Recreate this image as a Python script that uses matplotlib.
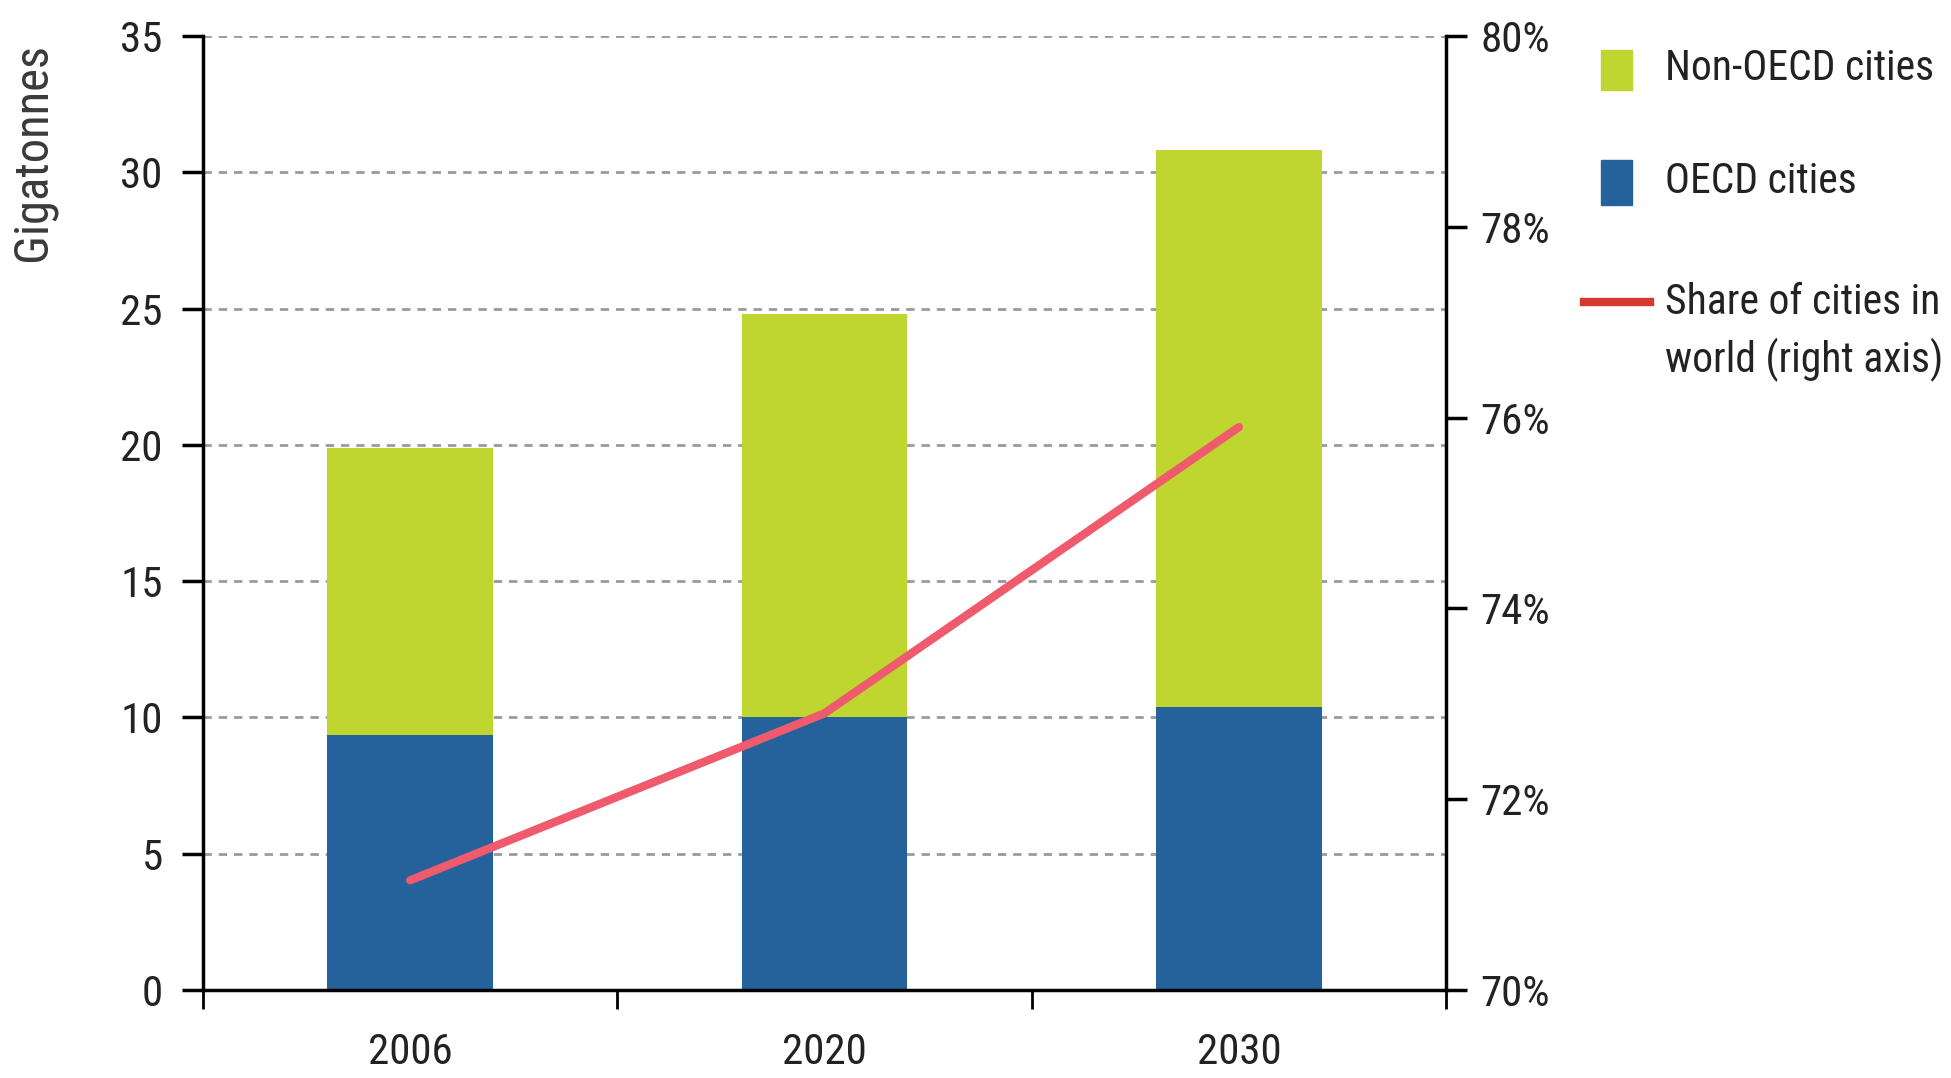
import matplotlib
matplotlib.use("Agg")
import matplotlib.pyplot as plt
from matplotlib.patches import Rectangle
from matplotlib.lines import Line2D
import numpy as np

plt.rcParams['font.family'] = ['Roboto Condensed', 'Lato', 'DejaVu Sans']

years = ['2006', '2020', '2030']
oecd = [9.35, 10.0, 10.4]
non_oecd = [10.55, 14.8, 20.4]
share = [71.15, 72.9, 75.9]
legend_labels = ['Non-OECD cities', 'OECD cities', 'Share of cities in\nworld (right axis)']

blue = '#25619A'
green = '#BFD630'
pink = '#EF5A6C'
red = '#D63A2E'
W, H = 1951, 1078

fig = plt.figure(figsize=(W/100, H/100), dpi=100)
ax = fig.add_axes([203/W, 1 - 990/H, (1446-203)/W, (990-36)/H])
ind = np.arange(len(years))
width = 0.4

ax.bar(ind, oecd, width, color=blue, zorder=2)
ax.bar(ind, non_oecd, width, bottom=oecd, color=green, zorder=2)

ax.set_xlim(-0.5, 2.5)
ax.set_ylim(0, 35)
ax.set_yticks(np.arange(0, 36, 5))
for y in np.arange(5, 36, 5):
  ax.axhline(y, color='#9A9A9A', lw=2, ls=(0, (3, 2.5)), zorder=1)

ax.set_xticks(ind)
ax.set_xticklabels(years)
ax.set_xticks([-0.5, 0.5, 1.5, 2.5], minor=True)
ax.tick_params(axis='x', which='major', length=0, pad=30, labelsize=31, labelcolor='#222222')
ax.tick_params(axis='x', which='minor', length=14, width=2)
ax.tick_params(axis='y', length=15, width=2.5, pad=14, labelsize=31, labelcolor='#222222')
for s in ['top', 'right']:
  ax.spines[s].set_visible(False)
for s in ['left', 'bottom']:
  ax.spines[s].set_linewidth(2.5)

ax.set_ylabel('Gigatonnes', fontsize=35, color='#3a3a3a')
ax.yaxis.set_label_coords(-0.118, 0.878)

ax2 = ax.twinx()
ax2.plot(ind, share, color=pink, lw=6, solid_capstyle='round', zorder=3)
ax2.set_ylim(70, 80)
ax2.set_yticks(np.arange(70, 81, 2))
ax2.set_yticklabels(['%d%%' % v for v in range(70, 81, 2)])
ax2.tick_params(axis='y', length=15, width=2.5, pad=10, labelsize=31, labelcolor='#222222')
for s in ['top', 'left', 'bottom']:
  ax2.spines[s].set_visible(False)
ax2.spines['right'].set_linewidth(2.5)

# legend, drawn by hand to the right of the plot
fig.add_artist(Rectangle((1601/W, 1 - 90/H), 31/W, 40/H, color=green, transform=fig.transFigure))
fig.add_artist(Rectangle((1601/W, 1 - 205/H), 31/W, 45/H, color=blue, transform=fig.transFigure))
fig.add_artist(Line2D([1584/W, 1650/W], [1 - 302/H, 1 - 302/H], color=red, lw=6, transform=fig.transFigure))
fig.text(1665/W, 1 - 68/H, legend_labels[0], fontsize=30, va='center', color='#222222')
fig.text(1665/W, 1 - 182/H, legend_labels[1], fontsize=30, va='center', color='#222222')
fig.text(1665/W, 1 - 332/H, legend_labels[2], fontsize=30, va='center', linespacing=1.45, color='#222222')

fig.savefig('out.png', dpi=100)
